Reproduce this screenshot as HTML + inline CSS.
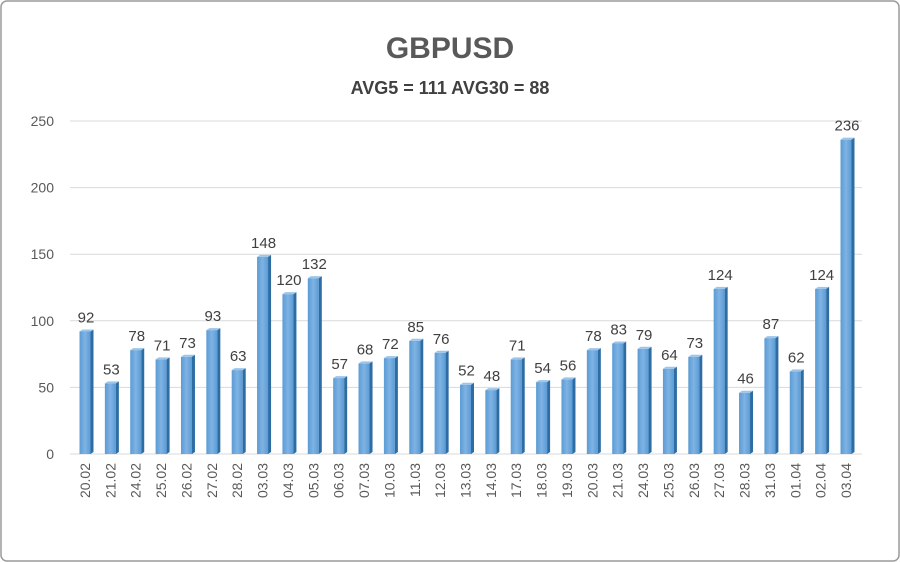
<!DOCTYPE html>
<html><head><meta charset="utf-8"><style>
body{margin:0;background:#fff;}
svg{display:block;font-family:"Liberation Sans",sans-serif;}
</style></head><body>
<svg width="900" height="562">
<defs>
<linearGradient id="bf" x1="0" x2="1" y1="0" y2="0"><stop offset="0" stop-color="#5b9bd5"/><stop offset="0.5" stop-color="#7fb3e3"/><stop offset="1" stop-color="#5b9bd5"/></linearGradient>
</defs>
<rect x="1" y="1" width="898" height="560" rx="6" fill="#fff" stroke="#9a9a9a" stroke-width="1.5"/>
<text x="450" y="58" text-anchor="middle" font-size="30" font-weight="bold" fill="#595959">GBPUSD</text>
<text x="450" y="94" text-anchor="middle" font-size="18" font-weight="bold" fill="#404040">AVG5 = 111 AVG30 = 88</text>
<g id="grid"></g><g id="bars"></g><g id="xl"></g>
</svg>
<script>
const categories=["20.02","21.02","24.02","25.02","26.02","27.02","28.02","03.03","04.03","05.03","06.03","07.03","10.03","11.03","12.03","13.03","14.03","17.03","18.03","19.03","20.03","21.03","24.03","25.03","26.03","27.03","28.03","31.03","01.04","02.04","03.04"];
const values=[92,53,78,71,73,93,63,148,120,132,57,68,72,85,76,52,48,71,54,56,78,83,79,64,73,124,46,87,62,124,236];
const yTicks=[0,50,100,150,200,250];
const NS="http://www.w3.org/2000/svg";
const y0=454,yTop=121,yMax=250;
const y=v=>y0-(v/yMax)*(y0-yTop);
const x0=85,step=(846-85)/(categories.length-1);
const x=i=>x0+i*step;
function mk(t,a,p){const e=document.createElementNS(NS,t);for(const k in a)e.setAttribute(k,a[k]);p.appendChild(e);return e;}
const grid=document.getElementById('grid'),bars=document.getElementById('bars'),xl=document.getElementById('xl');
yTicks.forEach(t=>{
 const l=mk('line',{x1:70,x2:862,y1:y(t),y2:y(t),stroke:'#d9d9d9','stroke-width':1},grid);
 
 
 const tx=mk('text',{x:54,y:y(t)+5,'text-anchor':'end','font-size':14,fill:'#595959'},grid);
 tx.textContent=t;
 
 
});
values.forEach((v,i)=>{
 const cx=x(i),w=11,top=y(v);
 const g=mk('g',{},bars);
 
 
 mk('rect',{x:cx-w/2,y:top,width:w,height:y0-top,fill:'url(#bf)'},g);
 mk('polygon',{points:`${cx+w/2},${top} ${cx+w/2+3},${top-2} ${cx+w/2+3},${y0-2} ${cx+w/2},${y0}`,fill:'#2e6da4'},g);
 mk('polygon',{points:`${cx-w/2},${top} ${cx-w/2+3},${top-2} ${cx+w/2+3},${top-2} ${cx+w/2},${top}`,fill:'#9cc5ea'},g);
 const t=mk('text',{x:cx+1,y:top-9,'text-anchor':'middle','font-size':15,fill:'#404040'},g);
 t.textContent=v;
 
 
 const c=mk('text',{x:0,y:0,'text-anchor':'end','font-size':14,fill:'#595959',transform:`translate(${cx+5},463) rotate(-90)`},xl);
 c.textContent=categories[i];
 
 
});
</script>
</body></html>
